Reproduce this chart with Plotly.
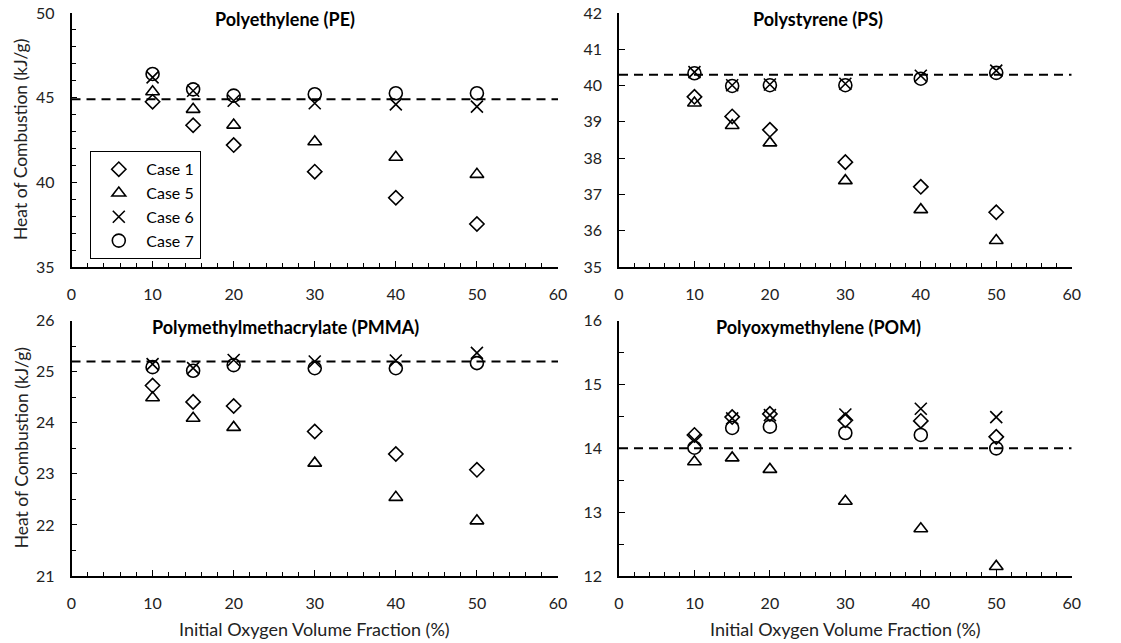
import plotly.graph_objects as go

W, H = 1121, 643

# ---------------- data ----------------
x_o2 = [10, 15, 20, 30, 40, 50]
case_names = ["Case 1", "Case 5", "Case 6", "Case 7"]

pe_case1 = [44.76, 43.37, 42.20, 40.63, 39.09, 37.54]
pe_case5 = [45.35, 44.31, 43.38, 42.40, 41.48, 40.47]
pe_case6 = [46.20, 45.41, 44.82, 44.67, 44.60, 44.47]
pe_case7 = [46.40, 45.49, 45.12, 45.20, 45.26, 45.26]
pe_ref = 44.9

ps_case1 = [39.69, 39.15, 38.78, 37.89, 37.21, 36.51]
ps_case5 = [39.52, 38.90, 38.42, 37.38, 36.58, 35.73]
ps_case6 = [40.37, 40.01, 40.03, 40.05, 40.27, 40.41]
ps_case7 = [40.34, 39.99, 40.01, 40.01, 40.19, 40.35]
ps_ref = 40.3

pmma_case1 = [24.73, 24.41, 24.33, 23.83, 23.39, 23.08]
pmma_case5 = [24.49, 24.09, 23.91, 23.21, 22.54, 22.08]
pmma_case6 = [25.15, 25.07, 25.23, 25.20, 25.22, 25.37]
pmma_case7 = [25.09, 25.02, 25.13, 25.07, 25.07, 25.17]
pmma_ref = 25.2

pom_case1 = [14.21, 14.49, 14.54, 14.44, 14.43, 14.18]
pom_case5 = [13.79, 13.85, 13.67, 13.17, 12.74, 12.15]
pom_case6 = [14.13, 14.47, 14.52, 14.53, 14.62, 14.49]
pom_case7 = [14.01, 14.32, 14.34, 14.24, 14.21, 14.00]
pom_ref = 14.0

panel_titles = ["Polyethylene (PE)", "Polystyrene (PS)",
                "Polymethylmethacrylate (PMMA)", "Polyoxymethylene (POM)"]
x_range = [0, 60]
y_ranges = [[35, 50], [35, 42], [21, 26], [12, 16]]
y_dticks = [5, 1, 1, 1]
y_minor = [1, None, 0.5, 0.5]

panels = [
    (pe_case1, pe_case5, pe_case6, pe_case7, pe_ref),
    (ps_case1, ps_case5, ps_case6, ps_case7, ps_ref),
    (pmma_case1, pmma_case5, pmma_case6, pmma_case7, pmma_ref),
    (pom_case1, pom_case5, pom_case6, pom_case7, pom_ref),
]

# ---------------- style ----------------
FONT = "Lato"
symbols = ["diamond-open", "triangle-up-open", "x-thin-open", "circle-open"]
sizes = [11, 12, 12, 13]

# pixel geometry of plot areas
xdoms = [[71.5 / W, 558 / W], [619 / W, 1071.7 / W]]
ydoms = [[(H - 267) / H, (H - 13) / H], [(H - 576) / H, (H - 320.7) / H]]

fig = go.Figure()

for i, (c1, c5, c6, c7, ref) in enumerate(panels):
    row, col = divmod(i, 2)
    ax = "" if i == 0 else str(i + 1)
    xa, ya = "x" + ax, "y" + ax
    # reference dashed line
    fig.add_trace(go.Scatter(
        x=x_range, y=[ref, ref], mode="lines", xaxis=xa, yaxis=ya,
        line=dict(color="black", width=2, dash="9px,6px"),
        showlegend=False, hoverinfo="skip"))
    for k, ys in enumerate([c1, c5, c6, c7]):
        fig.add_trace(go.Scatter(
            x=x_o2, y=ys, mode="markers", xaxis=xa, yaxis=ya,
            name=case_names[k], showlegend=(i == 0),
            marker=dict(symbol=symbols[k], size=sizes[k], color="black",
                        line=dict(color="black", width=1.6))))

    axis_common = dict(
        showline=True, linecolor="black", linewidth=1.6,
        showgrid=False, zeroline=False, mirror=False, automargin=False,
        ticks="inside", ticklen=6, tickwidth=1.3, tickcolor="black",
        tickfont=dict(family=FONT, size=16, color="#222"),
    )
    fig.layout["xaxis" + ax] = dict(
        axis_common, domain=xdoms[col], anchor=ya, range=x_range,
        tick0=0, dtick=10, ticklabelstandoff=12,
        minor=dict(ticks="inside", ticklen=4, dtick=2, tickwidth=1.2, tickcolor="black"))
    ymin = dict(ticks="inside", ticklen=5, dtick=y_minor[i], tickwidth=1.2,
                tickcolor="black") if y_minor[i] else dict(ticks="")
    fig.layout["yaxis" + ax] = dict(
        axis_common, domain=ydoms[row], anchor=xa, range=y_ranges[i],
        tick0=0, dtick=y_dticks[i], ticklabelstandoff=12, minor=ymin)

annotations = []
title_x = [285, 818, 285, 818]
title_y = [19, 19, 327, 327]
for i, t in enumerate(panel_titles):
    annotations.append(dict(
        text="<b>" + t + "</b>", x=title_x[i] / W, y=1 - title_y[i] / H,
        xref="paper", yref="paper", showarrow=False,
        xanchor="center", yanchor="middle",
        font=dict(family=FONT, size=18, color="black")))
for r in range(2):
    yc = (ydoms[r][0] + ydoms[r][1]) / 2
    annotations.append(dict(
        text="Heat of Combustion (kJ/g)", x=21 / W, y=yc,
        xref="paper", yref="paper", showarrow=False, textangle=-90,
        xanchor="center", yanchor="middle",
        font=dict(family=FONT, size=17.5, color="#222")))
for c in range(2):
    xc = (xdoms[c][0] + xdoms[c][1]) / 2
    annotations.append(dict(
        text="Initial Oxygen Volume Fraction (%)", x=xc, y=1 - 629 / H,
        xref="paper", yref="paper", showarrow=False,
        xanchor="center", yanchor="middle",
        font=dict(family=FONT, size=18, color="#222")))

fig.update_layout(
    width=W, height=H, margin=dict(l=0, r=0, t=0, b=0),
    paper_bgcolor="white", plot_bgcolor="white",
    annotations=annotations,
    legend=dict(x=90 / W, y=1 - 151 / H, xanchor="left", yanchor="top",
                bordercolor="black", borderwidth=1.3, bgcolor="white",
                font=dict(family=FONT, size=16, color="black"),
                tracegroupgap=0, itemwidth=45, entrywidth=70,
                entrywidthmode="pixels"),
)

fig.write_html(
    "out.html",
    config={"displayModeBar": False},
    post_script="document.body.style.margin='0';document.body.style.overflow='hidden';",
)
